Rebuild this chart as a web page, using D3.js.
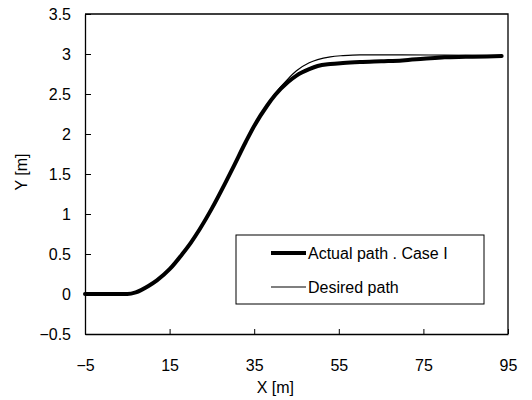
<!DOCTYPE html>
<html>
<head>
<meta charset="utf-8">
<script src="https://cdn.jsdelivr.net/npm/d3@7"></script>
<style>
  body { margin: 0; background: #fff; }
  svg text { font-family: "Liberation Sans", Arial, sans-serif; fill: #000; }
</style>
</head>
<body>
<svg id="chart"></svg>
<script>
// values
var actualX = [-5, 0, 5, 7, 10, 12, 15, 18, 20, 22, 25, 28, 30, 33, 35, 38, 40, 43, 45, 48, 50, 53, 56, 60, 65, 70, 75, 80, 85, 90, 93.5];
var actualY = [0, 0, 0, 0.02, 0.1, 0.17, 0.31, 0.5, 0.64, 0.8, 1.07, 1.37, 1.58, 1.9, 2.1, 2.35, 2.49, 2.65, 2.73, 2.81, 2.85, 2.875, 2.888, 2.9, 2.91, 2.92, 2.94, 2.96, 2.965, 2.97, 2.975];
var desiredX = [-5, 0, 5, 7, 10, 12, 15, 18, 20, 22, 25, 28, 30, 33, 35, 38, 40, 43, 45, 48, 50, 53, 56, 60, 70, 80, 93.5];
var desiredY = [0, 0, 0, 0.02, 0.1, 0.17, 0.31, 0.5, 0.64, 0.8, 1.07, 1.37, 1.58, 1.9, 2.1, 2.36, 2.51, 2.69, 2.79, 2.89, 2.93, 2.965, 2.98, 2.99, 2.99, 2.985, 2.98];
var xTicks = [-5, 15, 35, 55, 75, 95];
var yTicks = [-0.5, 0, 0.5, 1, 1.5, 2, 2.5, 3, 3.5];
var seriesNames = ["Actual path . Case I", "Desired path"];

var width = 532, height = 400;
var margin = {top: 14, right: 24, bottom: 66, left: 85};

var svg = d3.select("#chart").attr("width", width).attr("height", height);
var chart = svg.append("g").attr("transform", `translate(${margin.left}, ${margin.top})`);
var innerW = width - margin.left - margin.right;
var innerH = height - margin.top - margin.bottom;

var x = d3.scaleLinear().domain([-5, 95]).range([0, innerW]);
var y = d3.scaleLinear().domain([-0.5, 3.5]).range([innerH, 0]);

function fmt(v) { return v < 0 ? "\u2212" + Math.abs(v) : String(v); }

// axes, ticks pointing inward
var xAxis = chart.append("g").attr("transform", `translate(0, ${innerH})`)
    .call(d3.axisBottom(x).tickValues(xTicks).tickSizeInner(-5).tickSizeOuter(0).tickPadding(26).tickFormat(fmt));
var yAxis = chart.append("g")
    .call(d3.axisLeft(y).tickValues(yTicks).tickSizeInner(-6).tickSizeOuter(0).tickPadding(14).tickFormat(fmt));
[xAxis, yAxis].forEach(function(a) {
    a.selectAll("text").style("font-size", "16px").attr("fill", "#000");
    a.selectAll("line").attr("stroke", "#000");
    a.select(".domain").attr("stroke", "#000").attr("stroke-width", 1.3);
});

// frame top / right
chart.append("path")
    .attr("d", `M0,0H${innerW}V${innerH}`)
    .attr("fill", "none").attr("stroke", "#000").attr("stroke-width", 1.3);

var line = d3.line()
    .x(function(d){ return x(d[0]); })
    .y(function(d){ return y(d[1]); })
    .curve(d3.curveMonotoneX);

var actual = actualX.map(function(v, i){ return [v, actualY[i]]; });
var desired = desiredX.map(function(v, i){ return [v, desiredY[i]]; });

chart.append("path").datum(actual)
    .attr("d", line).attr("fill", "none").attr("stroke", "#000")
    .attr("stroke-width", 4).attr("stroke-linecap", "round");
chart.append("path").datum(desired)
    .attr("d", line).attr("fill", "none").attr("stroke", "#000")
    .attr("stroke-width", 1.2);

// axis titles
svg.append("text").attr("x", margin.left + x(40)).attr("y", 393)
    .attr("text-anchor", "middle").style("font-size", "16px").text("X [m]");
svg.append("text").attr("transform", "translate(27, 172) rotate(-90)")
    .attr("text-anchor", "middle").style("font-size", "16px").text("Y [m]");

// legend
var legend = chart.append("g").attr("transform", `translate(${236 - margin.left}, ${235 - margin.top})`);
legend.append("rect").attr("width", 248).attr("height", 69)
    .attr("fill", "#fff").attr("stroke", "#000").attr("stroke-width", 1);
var widths = [4, 1.2];
seriesNames.forEach(function(name, i) {
    var ly = 18 + i * 34;
    legend.append("line").attr("x1", 35).attr("x2", 70).attr("y1", ly).attr("y2", ly)
        .attr("stroke", "#000").attr("stroke-width", widths[i]);
    legend.append("text").attr("x", 72).attr("y", ly + 6).style("font-size", "16px").text(name);
});
</script>
</body>
</html>
